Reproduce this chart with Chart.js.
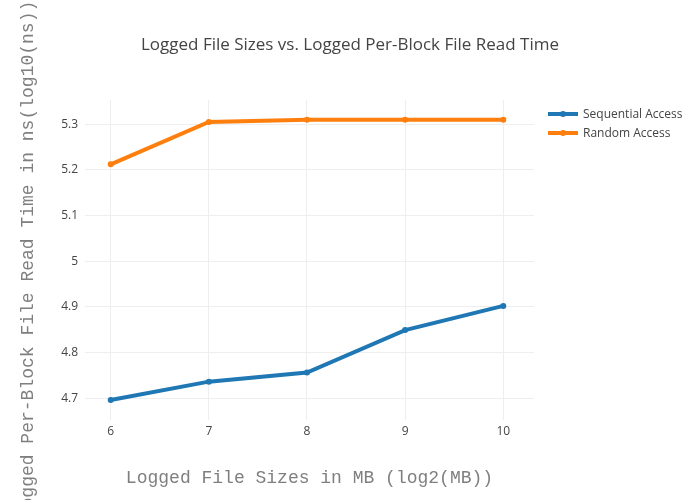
<!DOCTYPE html>
<html>
<head>
<meta charset="utf-8">
<style>
  body { margin: 0; background: #fff; }
  #contenedor { width: 700px; height: 500px; }
</style>
<script src="https://cdn.jsdelivr.net/npm/chart.js@4"></script>
</head>
<body>
<div id="contenedor"><canvas id="lecturaChart" width="700" height="500"></canvas></div>
<script>
// Datos
const tamanos = [6, 7, 8, 9, 10];
const secuencial = [4.696, 4.736, 4.756, 4.849, 4.902];
const aleatorio = [5.212, 5.305, 5.310, 5.310, 5.310];
const ticksX = [6, 7, 8, 9, 10];
const ticksY = [4.7, 4.8, 4.9, 5.0, 5.1, 5.2, 5.3];
const nombres = ['Sequential Access', 'Random Access'];
const colores = ['#1f77b4', '#ff7f0e'];

const puntos = valores => tamanos.map((t, i) => ({ x: t, y: valores[i] }));

// Título y leyenda dibujados a mano (como plotly)
const tituloYLeyenda = {
    id: 'tituloYLeyenda',
    afterDraw(chart) {
        const ctx = chart.ctx;
        ctx.save();
        ctx.fillStyle = '#444';
        ctx.font = '17px "Open Sans"';
        ctx.textAlign = 'center';
        ctx.textBaseline = 'middle';
        ctx.fillText('Logged File Sizes vs. Logged Per-Block File Read Time', 350, 45);

        ctx.font = '12px "Open Sans"';
        ctx.textAlign = 'left';
        chart.data.datasets.forEach((ds, i) => {
            const y = 114 + i * 19;
            ctx.strokeStyle = ds.borderColor;
            ctx.lineWidth = 4;
            ctx.beginPath();
            ctx.moveTo(548, y);
            ctx.lineTo(578, y);
            ctx.stroke();
            ctx.fillStyle = ds.borderColor;
            ctx.beginPath();
            ctx.arc(563, y, 3, 0, Math.PI * 2);
            ctx.fill();
            ctx.fillStyle = '#444';
            ctx.fillText(ds.label, 583, y + 1);
        });
        ctx.restore();
    }
};

const renderChart = () => {
    const ctx = document.getElementById('lecturaChart').getContext('2d');

    const data = {
        datasets: [secuencial, aleatorio].map((serie, i) => ({
            label: nombres[i],
            data: puntos(serie),
            borderColor: colores[i],
            backgroundColor: colores[i],
            borderWidth: 4,
            pointRadius: 3,
            pointBorderWidth: 0,
            tension: 0
        }))
    };

    const options = {
        responsive: false,
        animation: false,
        layout: { padding: { top: 100, right: 166, left: 0, bottom: 0 } },
        scales: {
            x: {
                type: 'linear',
                min: 5.738,
                max: 10.313,
                afterBuildTicks: s => { s.ticks = ticksX.map(v => ({ value: v })); },
                afterFit: s => { s.height = 80; },
                grid: { color: '#eee', drawTicks: false },
                border: { display: false },
                ticks: {
                    padding: 4,
                    color: '#444',
                    font: { family: 'Open Sans', size: 12 },
                    callback: v => String(v)
                },
                title: {
                    display: true,
                    text: 'Logged File Sizes in MB (log2(MB))',
                    color: '#7f7f7f',
                    font: { family: 'Liberation Mono', size: 18 },
                    padding: { top: 0, bottom: 11 }
                }
            },
            y: {
                min: 4.652,
                max: 5.353,
                afterBuildTicks: s => { s.ticks = ticksY.map(v => ({ value: v })); },
                afterFit: s => { s.width = 85; },
                grid: { color: '#eee', drawTicks: false },
                border: { display: false },
                ticks: {
                    padding: 7,
                    color: '#444',
                    font: { family: 'Open Sans', size: 12 },
                    callback: v => String(Math.round(v * 10) / 10)
                },
                title: {
                    display: true,
                    text: 'Logged Per-Block File Read Time in ns(log10(ns))',
                    color: '#7f7f7f',
                    font: { family: 'Liberation Mono', size: 18 },
                    padding: { top: 17, bottom: 0 }
                }
            }
        },
        plugins: {
            legend: { display: false },
            tooltip: { enabled: false }
        }
    };

    new Chart(ctx, {
        type: 'line',
        data: data,
        options: options,
        plugins: [tituloYLeyenda]
    });
};

renderChart();
</script>
</body>
</html>
